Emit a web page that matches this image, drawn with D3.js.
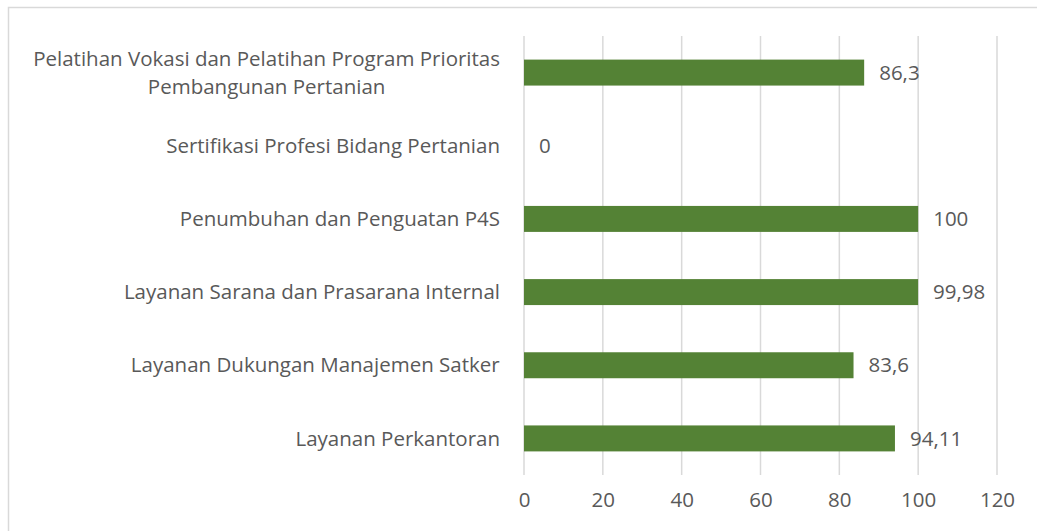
<!DOCTYPE html>
<html>
<head>
<meta charset="utf-8">
<script src="https://cdn.jsdelivr.net/npm/d3@7"></script>
<style>
  body { margin: 0; background: #fff; }
  text { font-family: "Open Sans", "Noto Sans", sans-serif; fill: #595959; }
</style>
</head>
<body>
<div id="chart"></div>
<script>
// data, top to bottom as in the chart
const categories = [
    ["Pelatihan Vokasi dan Pelatihan Program Prioritas", "Pembangunan Pertanian"],
    ["Sertifikasi Profesi Bidang Pertanian"],
    ["Penumbuhan dan Penguatan P4S"],
    ["Layanan Sarana dan Prasarana Internal"],
    ["Layanan Dukungan Manajemen Satker"],
    ["Layanan Perkantoran"]
];
const values = [86.3, 0, 100, 99.98, 83.6, 94.11];
const valueLabels = ["86,3", "0", "100", "99,98", "83,6", "94,11"];
const ticks = [0, 20, 40, 60, 80, 100, 120];

const width = 1037;
const height = 531;
const margin = {top: 36, left: 524, right: 40, bottom: 56};
const fontSize = "20.5px";

const svg = d3.select("#chart")
    .append("svg")
    .attr("width", width)
    .attr("height", height);

// chart frame
svg.append("rect")
    .attr("x", 8.5).attr("y", 7.5)
    .attr("width", width + 20).attr("height", height + 20)
    .attr("fill", "none")
    .attr("stroke", "#d9d9d9")
    .attr("stroke-width", 1.5);

const xScale = d3.scaleLinear()
    .domain([0, 120])
    .range([margin.left, 997]);

const yScale = d3.scaleBand()
    .domain(d3.range(categories.length))
    .range([margin.top, height - margin.bottom])
    .paddingInner(0.645)
    .paddingOuter(0.3225);

// gridlines
svg.selectAll("line.grid")
    .data(ticks)
    .enter()
    .append("line")
        .attr("class", "grid")
        .attr("x1", d => xScale(d)).attr("x2", d => xScale(d))
        .attr("y1", margin.top).attr("y2", height - margin.bottom)
        .attr("stroke", "#d9d9d9")
        .attr("stroke-width", 1.5);

// x axis labels
const xAxis = svg.append("g")
    .attr("transform", `translate(0,${height - margin.bottom})`)
    .call(d3.axisBottom(xScale).tickValues(ticks).tickSize(0).tickPadding(17));
xAxis.select(".domain").remove();
xAxis.selectAll("text")
    .style("font-size", fontSize)
    .style("font-family", "'Open Sans', sans-serif")
    .attr("fill", "#595959");

// bars
svg.selectAll("rect.bar")
    .data(values)
    .enter()
    .append("rect")
        .attr("class", "bar")
        .attr("x", xScale(0))
        .attr("y", (d, i) => yScale(i))
        .attr("width", d => xScale(d) - xScale(0))
        .attr("height", yScale.bandwidth())
        .attr("fill", "#548235");

// value labels
svg.selectAll("text.value")
    .data(values)
    .enter()
    .append("text")
        .attr("class", "value")
        .attr("x", d => xScale(d) + 15)
        .attr("y", (d, i) => yScale(i) + yScale.bandwidth() / 2)
        .attr("dy", "0.35em")
        .style("font-size", fontSize)
        .text((d, i) => valueLabels[i]);

// category labels
categories.forEach(function(lines, i) {
    const cy = yScale(i) + yScale.bandwidth() / 2;
    const lineH = 28;
    const label = svg.append("text")
        .attr("text-anchor", "middle")
        .attr("x", 0)
        .style("font-size", fontSize);
    lines.forEach(function(line, j) {
        label.append("tspan")
            .attr("x", 0)
            .attr("y", cy + (j - (lines.length - 1) / 2) * lineH)
            .attr("dy", "0.35em")
            .text(line);
    });
    // right-align the block at x=500, lines centred within it
    const w = label.node().getBBox().width;
    label.attr("transform", `translate(${500 - w / 2},0)`);
});
</script>
</body>
</html>
